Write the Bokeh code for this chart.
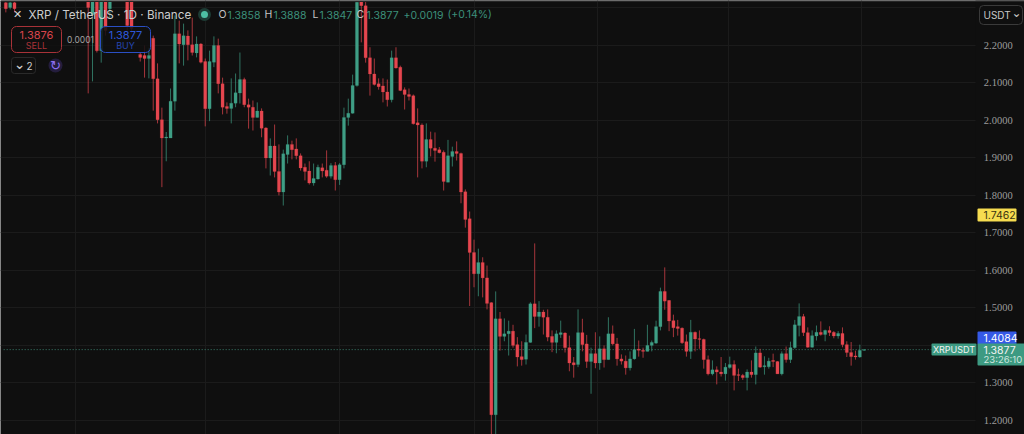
from bokeh.plotting import figure
from bokeh.models import ColumnDataSource, FixedTicker, Label, BoxAnnotation
from bokeh.embed import file_html
from bokeh.resources import INLINE

day_index = [-34, -33, -32, -15, -14, -13, -12, -11, -10, -6, -5, -3, -2, -1] + list(range(0, 165))

opens = [
    2.313, 2.300, 2.313, 2.380, 2.281, 2.360, 2.185, 2.360, 2.297, 2.360, 2.350, 2.175, 2.172, 2.164,
    2.218, 2.110, 2.001, 1.952, 1.952, 2.050, 2.230, 2.201, 2.224, 2.201,
    2.179, 2.203, 2.156, 2.030, 2.154, 2.199, 2.097, 2.036, 2.031, 2.045,
    2.072, 2.108, 2.041, 2.034, 2.007, 2.024, 1.979, 1.899, 1.931, 1.863,
    1.808, 1.908, 1.935, 1.923, 1.905, 1.874, 1.864, 1.832, 1.843, 1.873,
    1.866, 1.850, 1.879, 1.841, 1.881, 2.007, 2.018, 2.092, 2.316, 2.305,
    2.166, 2.123, 2.097, 2.091, 2.075, 2.054, 2.166, 2.141, 2.081, 2.068,
    2.065, 1.993, 1.987, 1.890, 1.948, 1.925, 1.921, 1.914, 1.834, 1.903,
    1.916, 1.911, 1.809, 1.737, 1.647, 1.590, 1.620, 1.579, 1.513, 1.214,
    1.470, 1.423, 1.430, 1.437, 1.401, 1.369, 1.362, 1.407, 1.510, 1.476,
    1.488, 1.474, 1.423, 1.407, 1.428, 1.432, 1.393, 1.353, 1.348, 1.433,
    1.403, 1.356, 1.377, 1.352, 1.390, 1.361, 1.430, 1.403, 1.363, 1.357,
    1.339, 1.363, 1.389, 1.386, 1.383, 1.399, 1.405, 1.449, 1.543, 1.519,
    1.465, 1.449, 1.445, 1.409, 1.383, 1.434, 1.417, 1.415, 1.361, 1.323,
    1.334, 1.328, 1.323, 1.340, 1.348, 1.321, 1.319, 1.313, 1.328, 1.321,
    1.379, 1.342, 1.342, 1.359, 1.356, 1.323, 1.377, 1.361, 1.393, 1.452,
    1.476, 1.433, 1.394, 1.424, 1.434, 1.428, 1.439, 1.434, 1.424, 1.431,
    1.401, 1.380, 1.371, 1.368, 1.3858,
]
highs = [
    2.319, 2.319, 2.319, 2.400, 2.390, 2.380, 2.380, 2.370, 2.370, 2.370, 2.370, 2.180, 2.199, 2.193,
    2.225, 2.151, 2.033, 1.968, 2.084, 2.279, 2.265, 2.257, 2.239, 2.273,
    2.223, 2.205, 2.164, 2.185, 2.223, 2.217, 2.113, 2.047, 2.111, 2.124,
    2.180, 2.113, 2.057, 2.052, 2.047, 2.031, 1.981, 1.951, 1.988, 1.935,
    1.921, 1.959, 1.945, 1.951, 1.911, 1.884, 1.890, 1.884, 1.881, 1.884,
    1.919, 1.885, 1.888, 1.885, 2.033, 2.057, 2.121, 2.330, 2.330, 2.316,
    2.194, 2.164, 2.111, 2.111, 2.108, 2.185, 2.194, 2.145, 2.087, 2.084,
    2.068, 2.031, 1.991, 1.991, 1.969, 1.967, 1.928, 1.919, 1.947, 1.929,
    1.943, 1.913, 1.815, 1.756, 1.681, 1.657, 1.634, 1.612, 1.514, 1.543,
    1.488, 1.471, 1.465, 1.454, 1.421, 1.410, 1.428, 1.514, 1.671, 1.517,
    1.494, 1.495, 1.439, 1.439, 1.465, 1.434, 1.425, 1.368, 1.495, 1.470,
    1.427, 1.393, 1.434, 1.423, 1.399, 1.474, 1.452, 1.419, 1.375, 1.372,
    1.383, 1.443, 1.412, 1.393, 1.454, 1.412, 1.465, 1.553, 1.607, 1.520,
    1.481, 1.467, 1.447, 1.428, 1.467, 1.436, 1.439, 1.417, 1.372, 1.359,
    1.343, 1.368, 1.352, 1.369, 1.359, 1.337, 1.323, 1.335, 1.359, 1.396,
    1.390, 1.370, 1.366, 1.377, 1.357, 1.383, 1.396, 1.409, 1.467, 1.511,
    1.483, 1.447, 1.439, 1.452, 1.463, 1.441, 1.450, 1.437, 1.437, 1.447,
    1.410, 1.408, 1.385, 1.401, 1.3888,
]
lows = [
    2.287, 2.295, 2.287, 2.071, 2.103, 2.180, 2.153, 2.225, 2.271, 2.239, 2.231, 2.156, 2.113, 2.111,
    2.025, 1.991, 1.821, 1.890, 1.952, 2.025, 2.151, 2.145, 2.159, 2.172,
    2.167, 2.151, 1.983, 1.997, 2.141, 2.071, 2.015, 2.017, 1.991, 2.034,
    2.044, 2.034, 1.977, 1.972, 2.007, 1.954, 1.871, 1.852, 1.847, 1.799,
    1.772, 1.884, 1.895, 1.895, 1.865, 1.839, 1.828, 1.825, 1.841, 1.847,
    1.846, 1.844, 1.812, 1.827, 1.871, 1.985, 2.017, 2.089, 2.207, 2.153,
    2.065, 2.092, 2.081, 2.047, 2.036, 2.047, 2.137, 2.077, 2.028, 2.052,
    1.988, 1.847, 1.871, 1.874, 1.903, 1.889, 1.911, 1.812, 1.834, 1.876,
    1.892, 1.778, 1.713, 1.504, 1.554, 1.530, 1.527, 1.495, 1.132, 1.132,
    1.385, 1.410, 1.372, 1.393, 1.343, 1.345, 1.348, 1.406, 1.445, 1.449,
    1.428, 1.410, 1.381, 1.378, 1.419, 1.380, 1.330, 1.313, 1.341, 1.383,
    1.339, 1.270, 1.338, 1.334, 1.340, 1.361, 1.399, 1.345, 1.348, 1.321,
    1.332, 1.361, 1.369, 1.366, 1.383, 1.383, 1.403, 1.439, 1.494, 1.437,
    1.421, 1.425, 1.403, 1.369, 1.363, 1.383, 1.390, 1.337, 1.319, 1.319,
    1.295, 1.316, 1.305, 1.337, 1.279, 1.304, 1.307, 1.279, 1.313, 1.295,
    1.339, 1.321, 1.337, 1.341, 1.323, 1.319, 1.353, 1.352, 1.390, 1.423,
    1.424, 1.393, 1.393, 1.412, 1.425, 1.410, 1.424, 1.418, 1.417, 1.394,
    1.368, 1.345, 1.361, 1.366, 1.3847,
]
closes = [
    2.297, 2.313, 2.297, 2.300, 2.370, 2.185, 2.360, 2.239, 2.360, 2.252, 2.244, 2.167, 2.164, 2.172,
    2.110, 2.001, 1.952, 1.955, 2.050, 2.230, 2.203, 2.225, 2.201, 2.180,
    2.203, 2.154, 2.030, 2.156, 2.199, 2.097, 2.034, 2.031, 2.045, 2.073,
    2.108, 2.041, 2.034, 2.007, 2.024, 1.978, 1.899, 1.931, 1.863, 1.808,
    1.910, 1.935, 1.921, 1.905, 1.872, 1.863, 1.832, 1.844, 1.874, 1.864,
    1.850, 1.879, 1.841, 1.881, 2.007, 2.018, 2.092, 2.314, 2.305, 2.166,
    2.123, 2.095, 2.089, 2.075, 2.054, 2.166, 2.139, 2.079, 2.068, 2.063,
    1.990, 1.987, 1.890, 1.948, 1.925, 1.919, 1.913, 1.836, 1.905, 1.916,
    1.911, 1.808, 1.735, 1.647, 1.590, 1.620, 1.579, 1.511, 1.214, 1.470,
    1.423, 1.430, 1.437, 1.399, 1.368, 1.361, 1.407, 1.510, 1.476, 1.488,
    1.474, 1.421, 1.407, 1.430, 1.433, 1.393, 1.352, 1.347, 1.433, 1.401,
    1.356, 1.377, 1.352, 1.390, 1.361, 1.430, 1.403, 1.363, 1.357, 1.339,
    1.363, 1.388, 1.386, 1.383, 1.399, 1.407, 1.449, 1.543, 1.517, 1.464,
    1.446, 1.444, 1.406, 1.383, 1.434, 1.416, 1.415, 1.361, 1.323, 1.334,
    1.328, 1.323, 1.341, 1.348, 1.319, 1.319, 1.313, 1.328, 1.321, 1.379,
    1.341, 1.345, 1.357, 1.356, 1.323, 1.377, 1.361, 1.393, 1.454, 1.476,
    1.433, 1.394, 1.425, 1.434, 1.428, 1.439, 1.433, 1.424, 1.431, 1.401,
    1.380, 1.369, 1.368, 1.3858, 1.3877,
]

grid_ticks = [1.2, 1.3, 1.4, 1.5, 1.6, 1.7, 1.8, 1.9, 2.0, 2.1, 2.2, 2.3]
price_ticks = [1.2, 1.3, 1.5, 1.6, 1.7, 1.8, 1.9, 2.0, 2.1, 2.2]
month_ticks = [-18, 12, 43, 74, 102.4, 132.8, 163.3]

title_text = "XRP / TetherUS · 1D · Binance"
ohlc_labels = [("O", "1.3858"), ("H", "1.3888"), ("L", "1.3847"), ("C", "1.3877")]
change_text = "+0.0019"
change_pct_text = "(+0.14%)"
sell_price, buy_price, spread = "1.3876", "1.3877", "0.0001"
last_price, countdown, symbol = "1.3877", "23:26:10", "XRPUSDT"
line_price = 1.3877
blue_price, yellow_price = "1.4084", "1.7462"

BG = "#0f0f0f"
UP = "#3f9e85"
DOWN = "#e5464f"
FONT = "Inter"

colors = [UP if c >= o else DOWN for o, c in zip(opens, closes)]
src = ColumnDataSource(dict(
    x=day_index,
    top=[max(o, c) for o, c in zip(opens, closes)],
    bottom=[min(o, c) for o, c in zip(opens, closes)],
    high=highs, low=lows, color=colors,
))

p = figure(
    width=1024, height=434, output_backend="svg", toolbar_location=None,
    x_range=(-35.23, 200.99), y_range=(1.1614, 2.3187),
    background_fill_color=BG, border_fill_color=BG, outline_line_color=None,
    min_border=0, x_axis_location=None, y_axis_location=None,
)

p.ygrid.ticker = FixedTicker(ticks=grid_ticks)
p.ygrid.grid_line_color = "#1b1b1b"
p.xgrid.ticker = FixedTicker(ticks=month_ticks)
p.xgrid.grid_line_color = "#1b1b1b"


def box(l, t, r, b, fill, line=None, radius=0, alpha=1.0, lw=1, level="annotation"):
    p.add_layout(BoxAnnotation(
        left=l, right=r, top=434 - t, bottom=434 - b,
        left_units="canvas", right_units="canvas", top_units="screen", bottom_units="screen",
        fill_color=fill, fill_alpha=alpha, line_color=line, line_width=lw, line_alpha=1.0,
        border_radius=radius, level=level,
    ))


def text(x, y, s, color="#cfcfcf", size=11, align="left", weight="normal", font=FONT):
    p.add_layout(Label(
        x=x, y=434 - y, x_units="canvas", y_units="screen", text=s, text_color=color,
        text_font=font, text_font_size=f"{size}px", text_align=align, text_baseline="middle",
        text_font_style=weight, level="annotation",
    ))


# price-scale panel hides the grid on the right
box(975, 0, 1024, 434, BG, level="underlay")

p.line([-34.5, 179.5], [line_price, line_price], line_color="#3a7f6d", line_dash=[1, 2], line_width=1)
p.segment("x", "high", "x", "low", source=src, line_color="color", line_width=1, line_alpha=0.7)
p.vbar("x", width=0.72, top="top", bottom="bottom", source=src, fill_color="color", line_color="color", line_width=0.2)

# price scale labels, placed through the y scale
p.text(x=[191.6] * len(price_ticks), y=price_ticks, text=[f"{t:.4f}" for t in price_ticks],
       text_color="#9c9c9c", text_font=FONT, text_font_size="10.5px",
       text_align="left", text_baseline="middle")

# top edge
box(0, 0, 1024, 1.5, "#262626")

# header
text(17, 14, "✕", "#d5d5d5", 11, "center", font="DejaVu Sans")
text(28, 14, title_text, "#cccccc", 11.7)
box(197.5, 7.5, 210.5, 20.5, "#1d3b34", radius=7)
box(200.5, 10.5, 207.5, 17.5, "#4dbfa3", radius=4)
xs = [(218, 227), (264, 273), (312, 319), (356, 366)]
for (lab, val), (xl, xv) in zip(ohlc_labels, xs):
    text(xl, 14, lab, "#c4c4c4", 10.5)
    text(xv, 14, val, "#3c8f7a", 10.5)
text(403, 14, change_text, "#3c8f7a", 10.5)
text(447, 14, change_pct_text, "#3c8f7a", 10.5)

# buttons
box(11, 26, 61, 52, BG, "#a83238", radius=5, alpha=0.85)
text(36, 34, sell_price, "#d8444c", 11, "center")
text(36, 45, "SELL", "#a83238", 9, "center")
text(80, 39, spread, "#a0a0a0", 8.5, "center")
box(100, 26, 150, 52, BG, "#2a4fc4", radius=5, alpha=0.85)
text(125, 34, buy_price, "#2e57d8", 11, "center")
text(125, 45, "BUY", "#2445ad", 9, "center")
box(11, 57, 35, 73, BG, "#2a2a2a", radius=3)
text(19, 63, "⌄", "#cfcfcf", 14, "center", font="DejaVu Sans")
text(29, 65, "2", "#cfcfcf", 10, "center")
box(48, 58, 62, 72, "#241d3d", radius=7)
text(55, 65, "↻", "#8d6ff0", 13, "center", font="DejaVu Sans")

# right side tags
box(979, 5, 1022, 24, BG, "#3a3a3a", radius=4)
text(983, 14.5, "USDT", "#c8c8c8", 10)
text(1016, 12, "⌄", "#c8c8c8", 12, "center", font="DejaVu Sans")
box(977, 208, 1016, 221, "#f6dc50", radius=1)
text(983, 214.5, yellow_price, "#3a3410", 10.5)
box(977, 331, 1016, 344, "#3559e6", radius=1)
text(983, 337.5, blue_price, "#ffffff", 10.5)
box(931, 343, 976, 355, "#3d9a82", radius=1)
text(953.5, 349, symbol, "#f2f2f2", 9, "center")
box(977, 343, 1024, 365, "#3d9a82", radius=1)
text(983, 349, last_price, "#f4f4f4", 10.5)
text(983, 359, countdown, "#cfe6df", 9.5)

open("out.html", "w").write(file_html(p, INLINE))
